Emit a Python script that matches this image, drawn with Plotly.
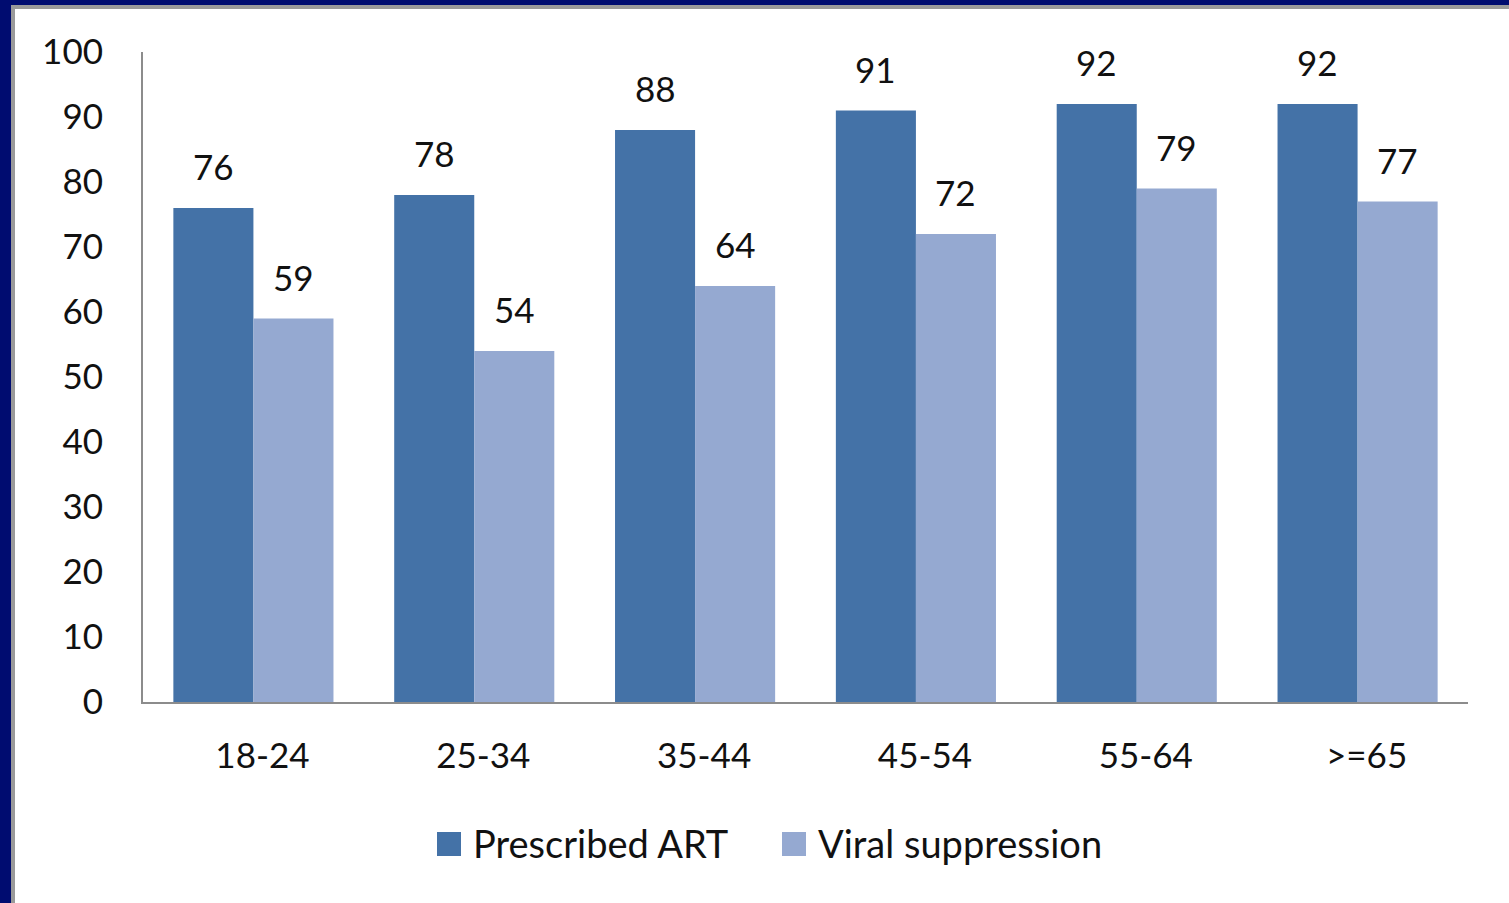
import plotly.graph_objects as go

# Age groups and percentages
age_groups = ["18-24", "25-34", "35-44", "45-54", "55-64", ">=65"]
prescribed_art = [76, 78, 88, 91, 92, 92]
viral_suppression = [59, 54, 64, 72, 79, 77]
series_names = ["Prescribed ART", "Viral suppression"]

DARK = "#4472A7"
LIGHT = "#95A9D1"
NAVY = "#000C70"
FONT = "Lato"
TXT = "#111"
W, H = 1509, 903
L, R, T, B = 143, 41, 52, 201

fig = go.Figure()
fig.add_trace(go.Bar(x=age_groups, y=prescribed_art, name=series_names[0],
                     marker=dict(color=DARK, line=dict(width=0)), showlegend=False))
fig.add_trace(go.Bar(x=age_groups, y=viral_suppression, name=series_names[1],
                     marker=dict(color=LIGHT, line=dict(width=0)), showlegend=False))

pw = W - L - R
ph = H - T - B


def px_x(p):
    return (p - L) / pw


def px_y(p):
    return (H - B - p) / ph


# value labels above each bar
annotations = []
for cat, a, v in zip(age_groups, prescribed_art, viral_suppression):
    for val, shift in ((a, -40), (v, 40)):
        annotations.append(dict(x=cat, y=val, text=str(val), showarrow=False,
                                xshift=shift, yshift=42, yanchor="middle",
                                font=dict(family=FONT, size=35, color=TXT)))

shapes = [
    # grey rim and white slide panel over the navy background
    dict(type="rect", xref="paper", yref="paper", layer="below",
         x0=px_x(11), x1=px_x(1515), y0=px_y(910), y1=px_y(5),
         fillcolor="#9A9A9A", line=dict(width=0)),
    dict(type="rect", xref="paper", yref="paper", layer="below",
         x0=px_x(15), x1=px_x(1515), y0=px_y(910), y1=px_y(9),
         fillcolor="white", line=dict(width=0)),
]

# legend drawn as swatches and labels beneath the axis
legend_items = [(series_names[0], DARK, 437), (series_names[1], LIGHT, 782)]
for name, color, left in legend_items:
    shapes.append(dict(type="rect", xref="paper", yref="paper",
                       x0=px_x(left), x1=px_x(left + 24),
                       y0=px_y(856), y1=px_y(832),
                       fillcolor=color, line=dict(width=0)))
    annotations.append(dict(xref="paper", yref="paper", x=px_x(left + 34),
                            y=px_y(843), xanchor="left", yanchor="middle",
                            text=name, showarrow=False,
                            font=dict(family=FONT, size=38, color=TXT)))

fig.update_layout(
    width=W, height=H,
    margin=dict(l=L, r=R, t=T, b=B, pad=0),
    paper_bgcolor=NAVY,
    plot_bgcolor="white",
    barmode="group",
    bargap=0.275,
    bargroupgap=0,
    font=dict(family=FONT, size=35, color=TXT),
    showlegend=False,
    annotations=annotations,
    shapes=shapes,
    xaxis=dict(showline=True, linecolor="#8C8C8C", linewidth=2,
               ticks="", showgrid=False, zeroline=False,
               tickfont=dict(family=FONT, size=35, color=TXT),
               ticklabelshift=9, ticklabelstandoff=22),
    yaxis=dict(range=[0, 100], dtick=10, showline=True, linecolor="#8C8C8C",
               linewidth=2, ticks="", showgrid=False, zeroline=False,
               tickfont=dict(family=FONT, size=35, color=TXT),
               ticklabelstandoff=31),
)

fig.write_html("out.html")
